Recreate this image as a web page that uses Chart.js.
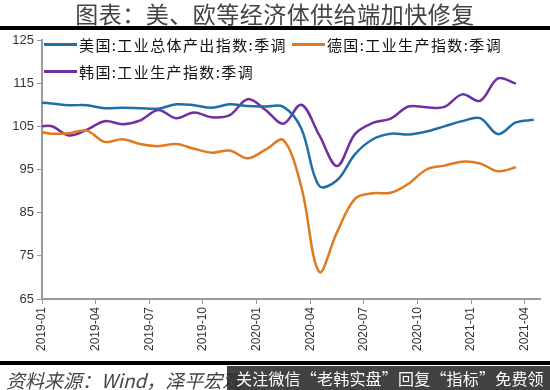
<!DOCTYPE html>
<html>
<head>
<meta charset="utf-8">
<script src="https://cdn.jsdelivr.net/npm/chart.js@4.4.1/dist/chart.umd.min.js"></script>
<style>
  body { margin: 0; background: #fff; }
  #wrap { position: relative; width: 550px; height: 390px; overflow: hidden; font-family: "Noto Sans CJK SC", sans-serif; }
  #chart { position: absolute; left: 0; top: 0; }
  #title { position: absolute; left: 0; top: -1px; width: 550px; text-align: center; font-size: 23px; line-height: 28px; color: #444; letter-spacing: 0.5px; }
  .rule { position: absolute; left: 0; width: 550px; height: 4px; background: #000; }
  #legend { position: absolute; left: 44px; top: 31px; }
  .row { display: flex; white-space: nowrap; }
  .item { display: flex; align-items: center; height: 27px; margin-right: 5px; font-size: 15px; color: #111; letter-spacing: 1.4px; }
  .swatch { width: 33px; height: 3px; margin-right: 2px; }
  #source { position: absolute; left: 6px; top: 366px; font-size: 19px; font-style: italic; color: #444; white-space: nowrap; }
  #mark { position: absolute; left: 227px; top: 366px; width: 323px; height: 24px; background: rgba(45,45,45,0.9); color: #fff; font-size: 16px; line-height: 24px; padding-left: 9px; box-sizing: border-box; white-space: nowrap; letter-spacing: 0.2px; }
</style>
</head>
<body>
<div id="wrap">
  <canvas id="chart" width="550" height="390"></canvas>
  <div id="title">图表：美、欧等经济体供给端加快修复</div>
  <div class="rule" style="top:26px"></div>
  <div id="legend"></div>
  <div class="rule" style="top:361px"></div>
  <div id="source">资料来源：Wind，泽平宏观</div>
  <div id="mark">关注微信“老韩实盘”回复“指标”免费领</div>
</div>
<script>
// monthly data, 2018-12 .. 2021-04
const months = ['2018-12',
  '2019-01','2019-02','2019-03','2019-04','2019-05','2019-06','2019-07','2019-08','2019-09','2019-10','2019-11','2019-12',
  '2020-01','2020-02','2020-03','2020-04','2020-05','2020-06','2020-07','2020-08','2020-09','2020-10','2020-11','2020-12',
  '2021-01','2021-02','2021-03','2021-04'];
const tickLabels = ['2019-01','2019-04','2019-07','2019-10','2020-01','2020-04','2020-07','2020-10','2021-01','2021-04'];
const yTicks = [65, 75, 85, 95, 105, 115, 125];

const seriesNames = ['美国:工业总体产出指数:季调', '德国:工业生产指数:季调', '韩国:工业生产指数:季调'];
const seriesColors = ['#1f6fa6', '#e07a1f', '#7030a0'];
const legendRows = [[0, 1], [2]];

const usIP = [110.6, 110.3, 109.9, 109.9, 109.2, 109.3, 109.2, 109.1, 110.1, 109.9, 109.3, 110.1, 109.7,
  109.6, 109.5, 104.5, 91.2, 92.5, 98.5, 102.0, 103.3, 103.1, 103.8, 105.0, 106.2,
  106.9, 103.2, 105.9, 106.5];
const deIP = [104.0, 103.3, 103.4, 104.0, 101.4, 102.0, 100.9, 100.4, 100.9, 99.8, 98.9, 99.4, 97.6,
  99.6, 101.8, 91.0, 71.3, 80.5, 88.2, 89.5, 89.6, 91.7, 95.0, 95.9, 96.8,
  96.4, 94.6, 95.5];
const krIP = [104.6, 105.1, 102.9, 104.2, 106.2, 105.5, 106.4, 108.8, 106.9, 108.2, 107.1, 107.6, 111.3,
  108.8, 105.6, 110.0, 103.0, 95.8, 103.2, 105.8, 106.8, 109.6, 109.4, 109.5, 112.4,
  110.9, 116.1, 114.9];

// x = months since 2019-01, points sit mid-month
const start = months.indexOf('2019-01');
const toPoints = vals => vals.map((v, i) => ({ x: i - start + 0.5, y: v }));

const allSeries = [usIP, deIP, krIP];

const legend = document.getElementById('legend');
legendRows.forEach(row => {
  const r = document.createElement('div');
  r.className = 'row';
  row.forEach(k => {
    const item = document.createElement('div');
    item.className = 'item';
    item.innerHTML = `<span class="swatch" style="background:${seriesColors[k]}"></span><span>${seriesNames[k]}</span>`;
    r.appendChild(item);
  });
  legend.appendChild(r);
});

const axisColor = '#9a9a9a';

new Chart(document.getElementById('chart'), {
  type: 'line',
  data: {
    datasets: allSeries.map((vals, k) => ({
      label: seriesNames[k],
      data: toPoints(vals),
      borderColor: seriesColors[k],
      borderWidth: 2.5,
      pointRadius: 0,
      tension: 0.35,
      fill: false
    }))
  },
  options: {
    responsive: false,
    animation: false,
    layout: { padding: { top: 40, right: 10, bottom: 0, left: 0 } },
    plugins: { legend: { display: false }, tooltip: { enabled: false } },
    scales: {
      x: {
        type: 'linear',
        min: 0,
        max: 27.85,
        afterBuildTicks: scale => {
          scale.ticks = tickLabels.map(l => ({ value: months.indexOf(l) - start }));
        },
        afterFit: scale => { scale.height = 91; },
        ticks: {
          autoSkip: false,
          minRotation: 90,
          maxRotation: 90,
          padding: 3,
          color: '#333',
          font: { family: 'Liberation Sans', size: 12 },
          callback: v => months[v + start]
        },
        grid: { drawOnChartArea: false, drawTicks: true, tickLength: 5, color: axisColor },
        border: { color: axisColor, width: 2 }
      },
      y: {
        min: 65,
        max: 125,
        afterBuildTicks: scale => {
          scale.ticks = yTicks.map(v => ({ value: v }));
        },
        afterFit: scale => { scale.width = 42; },
        ticks: {
          padding: 3,
          color: '#333',
          font: { family: 'Liberation Sans', size: 13 }
        },
        grid: { drawOnChartArea: false, drawTicks: true, tickLength: 5, color: axisColor },
        border: { color: axisColor, width: 2 }
      }
    }
  }
});
</script>
</body>
</html>
